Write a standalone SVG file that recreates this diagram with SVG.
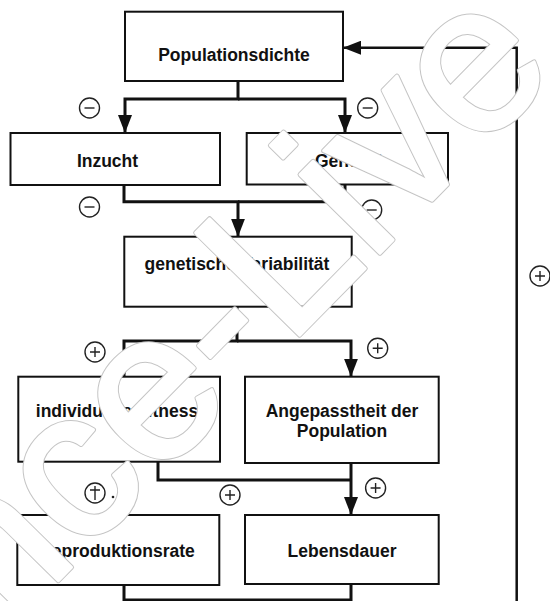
<svg xmlns="http://www.w3.org/2000/svg" width="550" height="601" viewBox="0 0 550 601">
<style>
.box{fill:#fff;stroke:#111;stroke-width:2}
.lbl{font-family:"Liberation Sans",Arial,sans-serif;font-weight:bold;font-size:17.5px;fill:#111;text-anchor:middle}
.con{fill:none;stroke:#111;stroke-width:3}
.fb{fill:none;stroke:#111;stroke-width:2.5}
.wm{font-family:"Liberation Sans",Arial,sans-serif;font-size:212px;stroke-linejoin:round}
</style>
<defs>
<marker id="ah" viewBox="0 0 18 14" refX="18" refY="7" markerWidth="18" markerHeight="14" markerUnits="userSpaceOnUse" orient="auto">
<path d="M0,0 L18,7 L0,14 Z" fill="#111"/>
</marker>
<g id="minus" fill="none" stroke="#222" stroke-width="1.4"><circle r="10"/><path d="M-5,0 H5"/></g>
<g id="plus" fill="none" stroke="#222" stroke-width="1.4"><circle r="10"/><path d="M-5,0 H5 M0,-5 V5"/></g>
</defs>
<rect width="550" height="601" fill="#fff"/>
<g id="connectors">
<path class="con" d="M238,81 V99 H125 V133" marker-end="url(#ah)"/>
<path class="con" d="M238,99 H345 V133" marker-end="url(#ah)"/>
<path class="con" d="M124,185 V201.7 H238 V236.7" marker-end="url(#ah)"/>
<path class="con" d="M345,184.5 V201.7 H238"/>
<path class="con" d="M237,306.7 V341 H124 V376.7" marker-end="url(#ah)"/>
<path class="con" d="M237,341 H351 V376.7" marker-end="url(#ah)"/>
<path class="con" d="M158,461.7 V480 H351"/>
<path class="con" d="M351,463 V515" marker-end="url(#ah)"/>
<path class="con" d="M124,585 V600 H351 V584"/>
<path class="fb" d="M516.7,601 V47.7 H343" marker-end="url(#ah)"/>
</g>
<g id="populationsdichte"><rect class="box" x="125" y="11.7" width="218" height="69.3"/><text class="lbl" x="234" y="61">Populationsdichte</text></g>
<g id="inzucht"><rect class="box" x="10.5" y="133" width="209.5" height="52"/><text class="lbl" x="107.5" y="167">Inzucht</text></g>
<g id="gendrift"><rect class="box" x="246.7" y="133" width="201.3" height="51.5"/><text class="lbl" x="349" y="167">Gendrift</text></g>
<g id="variabilitaet"><rect class="box" x="124.3" y="236.7" width="227.4" height="70"/><text class="lbl" x="237" y="270">genetische Variabilität</text></g>
<g id="fitness"><rect class="box" x="18.3" y="376.7" width="201.7" height="85"/><text class="lbl" x="117" y="417">individuelle Fitness</text></g>
<g id="angepasstheit"><rect class="box" x="245" y="376.7" width="193.7" height="86.3"/><text class="lbl" x="342" y="417">Angepasstheit der</text><text class="lbl" x="342" y="437">Population</text></g>
<g id="reproduktionsrate"><rect class="box" x="17.3" y="515" width="202" height="70"/><text class="lbl" x="117" y="557">Reproduktionsrate</text></g>
<g id="lebensdauer"><rect class="box" x="245" y="515" width="193.7" height="69"/><text class="lbl" x="342" y="557">Lebensdauer</text></g>
<g id="signs">
<use href="#minus" x="89.5" y="108"/>
<use href="#minus" x="367.7" y="108"/>
<use href="#minus" x="89.5" y="207"/>
<use href="#minus" x="371.7" y="210"/>
<use href="#plus" x="95" y="352"/>
<use href="#plus" x="377.7" y="348.3"/>
<use href="#plus" x="540" y="276"/>
<g fill="none" stroke="#222" stroke-width="1.4"><circle cx="95" cy="493" r="10"/><path d="M90,490 H100 M95,486 V500"/></g>
<circle cx="113" cy="497" r="1.3" fill="#222"/>
<use href="#plus" x="230" y="495"/>
<use href="#plus" x="375.6" y="488"/>
</g>
<g id="watermark" class="wm" transform="translate(-1.6,641.6) rotate(-45.5)">
<text fill="#c4c4c4" stroke="#c4c4c4" stroke-width="5">nce-Live</text>
<text fill="#fff" stroke="#fff" stroke-width="3">nce-Live</text>
</g>
</svg>
